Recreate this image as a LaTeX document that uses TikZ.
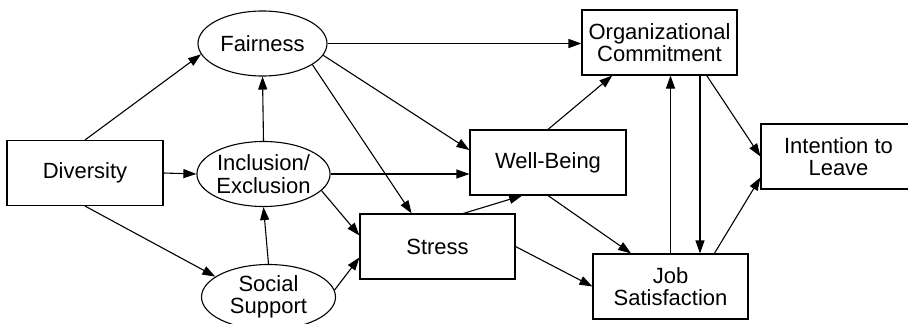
\documentclass[tikz,border=0pt]{standalone}
\usepackage{fontspec}
\setmainfont{Liberation Sans}
\usetikzlibrary{shapes.geometric}
\usetikzlibrary{arrows.meta}
\usetikzlibrary{positioning}
\tikzset{
  % latent constructs are ellipses, measured ones are boxes
  construct/.style={ellipse, draw, line width=1.1pt, minimum width=129pt,
    minimum height=65pt, inner sep=0pt, align=center},
  measure/.style={rectangle, draw, line width=1.1pt, minimum width=155pt,
    minimum height=65pt, inner sep=0pt, align=center},
  effect/.style={draw, line width=1.1pt, -{Triangle[length=13pt, width=9pt]}}
}

\begin{document}
\begin{tikzpicture}[x=1pt, y=-1pt, every node/.style={font=\fontsize{22}{22.5}\selectfont}]
  \clip (0,0) rectangle (908,324);

  \node [measure, minimum width=156pt] (div) at (85,173) {Diversity};
  \node [construct] (fair) at (262.5,43.5) {Fairness};
  \node [construct] (incl) at (263.5,174) {Inclusion/\\Exclusion};
  \node [construct, minimum width=134pt] (soc) at (268.5,297) {Social\\Support};
  \node [measure] (stress) at (437.5,246.5) {Stress};
  \node [measure, minimum width=156pt] (wb) at (548,162.5) {Well-Being};
  \node [measure] (org) at (659.5,42.5) {Organizational\\Commitment};
  \node [measure] (leave) at (838.5,156.5) {Intention to\\Leave};
  \node [measure] (job) at (670.5,286.5) {Job\\Satisfaction};

  \draw [effect] (div.north) -- (fair.190);
  \draw [effect] (div.east) -- (incl.west);
  \draw [effect] (div.south) -- (soc.159);
  \draw [effect] (incl.north) -- (fair.south);
  \draw [effect] (soc.north) -- (incl.south);

  \draw [effect] (fair.east) -- (fair.east -| org.west);
  \draw [effect] (fair.-11) -- (wb.171);
  \draw [effect] (fair.-23) -- (stress.128);
  \draw [effect] (incl.east) -- (incl.east -| wb.west);
  \draw [effect] (incl.-16) -- (stress.172);
  \draw [effect] (soc.6) -- (stress.188);

  \draw [effect] (stress.52) -- (wb.232);
  \draw [effect] (wb.north) -- (org.215);
  \draw [effect] (wb.south) -- (job.140);
  \draw [effect] (stress.east) -- (job.west);

  \draw [effect] (job.north) -- (job.north |- org.south);
  \coordinate (od) at ([xshift=40.5pt]org.south);
  \draw [effect] (od) -- (od |- job.north);
  \draw [effect] (org.-35) -- (leave.west);
  \draw [effect] (job.37) -- (leave.195);
\end{tikzpicture}
\end{document}
